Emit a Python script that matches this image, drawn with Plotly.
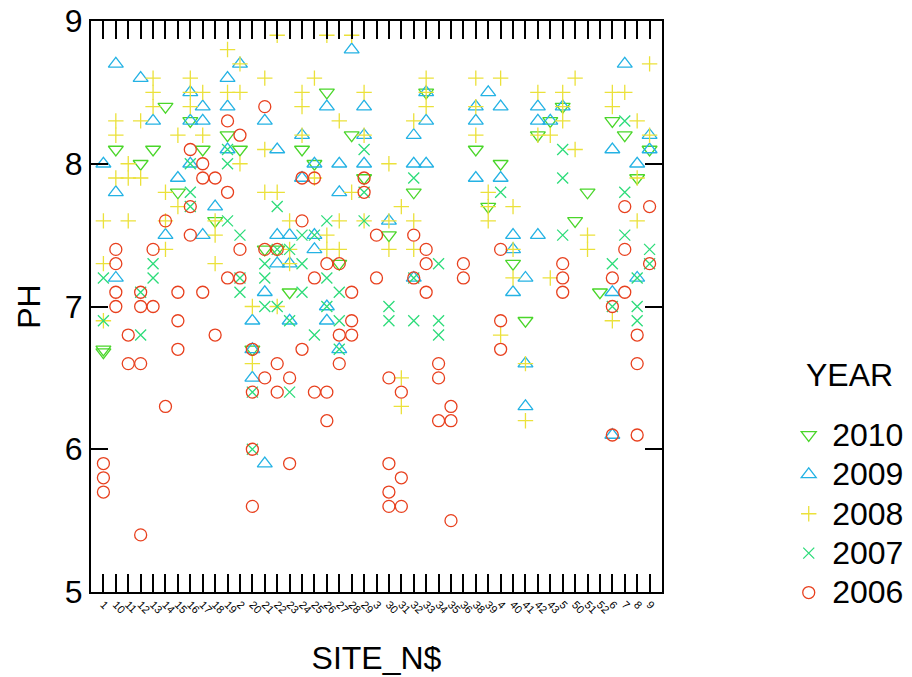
import plotly.graph_objects as go

# Sampling sites in the order they appear on the x axis (string sort)
sites = ["1", "10", "11", "12", "13", "14", "15", "16", "17", "18", "19",
         "2", "20", "21", "22", "23", "24", "25", "26", "27", "28", "29",
         "3", "30", "31", "32", "33", "34", "35", "36", "38", "39",
         "4", "40", "41", "42", "43", "5", "50", "51", "52", "6", "7", "8", "9"]

# pH readings per site, one mapping per sampling year
ph_2010 = {"1": [6.7, 6.68], "10": [8.1], "12": [8.0], "13": [8.1], "14": [8.4],
           "15": [7.8], "16": [8.3], "17": [8.1], "18": [7.6], "19": [8.2], "2": [8.1],
           "20": [6.7], "21": [7.4], "22": [7.4], "23": [7.1], "24": [8.1], "25": [8.0],
           "26": [8.5], "27": [7.3], "28": [8.2], "29": [7.9], "30": [7.5], "32": [7.8],
           "33": [8.5], "38": [8.1], "39": [7.7], "4": [8.0], "40": [7.3], "41": [6.9],
           "42": [8.2], "43": [8.3], "5": [8.4], "50": [7.6], "51": [7.8], "52": [7.1],
           "6": [8.3], "7": [8.2], "8": [7.9], "9": [8.1]}

ph_2009 = {"1": [8.0], "10": [8.7, 7.8, 7.2], "12": [8.6], "13": [8.3], "14": [7.5],
           "15": [7.9], "16": [8.5, 8.3, 8.0], "17": [8.4, 8.3, 7.5], "18": [7.7],
           "19": [8.6, 8.4, 8.1], "2": [8.7], "20": [6.9, 6.7, 6.5], "21": [8.3, 7.1, 5.9],
           "22": [8.1, 7.5, 7.3], "23": [7.5, 7.3, 6.9], "24": [8.2, 7.9],
           "25": [8.0, 7.5, 7.4], "26": [8.4, 7.0, 6.9], "27": [8.0, 7.8, 6.7], "28": [8.8],
           "29": [8.4, 8.2, 8.0], "30": [7.6], "32": [8.2, 8.0, 7.2], "33": [8.5, 8.3, 8.0],
           "38": [8.4, 8.3, 7.9], "39": [8.5], "4": [8.4, 7.9], "40": [7.5, 7.4, 7.1],
           "41": [7.2, 6.6, 6.3], "42": [8.4, 8.3, 7.5], "43": [8.3], "5": [8.4],
           "6": [8.1, 7.1, 6.1], "7": [8.7], "8": [8.0, 7.2], "9": [8.2, 8.1]}

ph_2008 = {"1": [7.6, 7.3, 6.9], "10": [8.3, 8.2, 7.9], "11": [8.0, 7.9, 7.6],
           "12": [8.3, 7.9], "13": [8.6, 8.5, 8.4], "14": [7.8, 7.6, 7.4], "15": [8.2, 7.7],
           "16": [8.6, 8.5, 8.4], "17": [8.5, 8.2], "18": [7.6, 7.5, 7.3], "19": [8.8, 8.5],
           "2": [8.7, 8.5, 8.0], "20": [7.0, 6.6], "21": [8.6, 8.1, 7.8], "22": [8.9, 7.8, 7.0],
           "23": [7.6, 7.4, 7.3], "24": [8.5, 8.4, 8.2], "25": [8.6, 7.9], "26": [8.9, 7.5, 7.4],
           "27": [8.3, 7.6, 7.4], "28": [8.9, 7.8], "29": [8.5, 8.2, 7.6], "30": [8.0, 7.6, 7.4],
           "31": [7.7, 6.5, 6.3], "32": [8.3, 7.6, 7.4], "33": [8.6, 8.5, 8.4],
           "38": [8.6, 8.4, 8.2], "39": [7.8, 7.7, 7.6], "4": [8.6, 6.8], "40": [7.7, 7.4, 7.2],
           "41": [6.6, 6.2], "42": [8.5, 8.2], "43": [8.2, 7.2], "5": [8.5, 8.4, 8.3],
           "50": [8.6, 8.1], "51": [7.5, 7.4], "6": [8.5, 8.4, 6.9], "7": [8.5],
           "8": [8.3, 7.9, 7.6], "9": [8.7, 8.2]}

ph_2007 = {"1": [7.2, 6.9], "12": [7.1, 6.8], "13": [7.3, 7.2], "16": [8.0, 7.8, 7.7],
           "19": [8.1, 8.0, 7.6], "2": [7.5, 7.2, 7.1], "20": [6.4, 6.0], "21": [7.3, 7.2, 7.0],
           "22": [7.7, 7.4, 7.0], "23": [7.4, 6.9, 6.4], "24": [7.5, 7.3, 7.1], "25": [7.5, 6.8],
           "26": [7.6, 7.2, 7.0], "27": [7.1, 6.9, 6.7], "29": [8.1, 7.8, 7.6], "30": [7.0, 6.9],
           "32": [7.9, 7.2, 6.9], "34": [7.3, 6.9, 6.8], "4": [7.8], "5": [8.1, 7.9, 7.5],
           "6": [7.3, 7.0], "7": [8.3, 7.8, 7.5], "8": [7.2, 7.0, 6.9], "9": [7.4, 7.3]}

ph_2006 = {"1": [5.9, 5.8, 5.7], "10": [7.4, 7.3, 7.1, 7.0], "11": [6.8, 6.6],
           "12": [7.1, 7.0, 6.6, 5.4], "13": [7.4, 7.0], "14": [7.6, 6.3], "15": [7.1, 6.9, 6.7],
           "16": [8.1, 7.7, 7.5], "17": [8.0, 7.9, 7.1], "18": [7.9, 6.8], "19": [8.3, 7.8, 7.2],
           "2": [8.2, 7.4, 7.2], "20": [6.7, 6.4, 6.0, 5.6], "21": [8.4, 7.4, 6.5],
           "22": [7.4, 6.6, 6.4], "23": [6.5, 5.9], "24": [7.9, 7.6, 6.7], "25": [7.9, 7.2, 6.4],
           "26": [7.3, 6.4, 6.2], "27": [7.3, 6.8, 6.6], "28": [7.1, 6.9, 6.8], "29": [7.9, 7.8],
           "3": [7.5, 7.2], "30": [6.5, 5.9, 5.7, 5.6], "31": [6.4, 5.8, 5.6], "32": [7.5, 7.2],
           "33": [7.4, 7.3, 7.1], "34": [6.6, 6.5, 6.2], "35": [6.3, 6.2, 5.5], "36": [7.3, 7.2],
           "4": [7.4, 6.9, 6.7], "5": [7.3, 7.2, 7.1], "6": [7.2, 7.0, 6.1], "7": [7.7, 7.4, 7.1],
           "8": [6.8, 6.6, 6.1], "9": [7.7, 7.3]}

years = ["2010", "2009", "2008", "2007", "2006"]
year_data = [ph_2010, ph_2009, ph_2008, ph_2007, ph_2006]
symbols = ["triangle-down-open", "triangle-up-open", "cross-thin-open",
           "x-thin-open", "circle-open"]
colors = ["#4ad62a", "#24b2e4", "#ebe13a", "#2ddc7a", "#e8401e"]
sizes = [13, 13, 11, 11, 12]

FONT = "Liberation Sans, Arial, sans-serif"
BIG = 32

fig = go.Figure()
for yr, data, sym, col, sz in zip(years, year_data, symbols, colors, sizes):
    xs, ys = [], []
    for site, vals in data.items():
        for v in vals:
            xs.append(site)
            ys.append(v)
    fig.add_trace(go.Scatter(
        x=xs, y=ys, mode="markers",
        name=f'<span style="font-size:{BIG}px">{yr}</span>', legendgroup=yr,
        marker=dict(symbol=sym, color=col, size=sz, line=dict(color=col, width=1.3)),
    ))

fig.update_layout(
    width=912, height=677,
    margin=dict(l=91, r=250, t=21, b=85),
    paper_bgcolor="white", plot_bgcolor="white",
    font=dict(family=FONT, color="black"),
    showlegend=True,
    legend=dict(
        xref="container", yref="container", x=0.861, y=0.394,
        xanchor="left", yanchor="top",
        font=dict(size=28, family=FONT, color="black"),
        traceorder="grouped", tracegroupgap=0, itemwidth=37,
        bgcolor="rgba(0,0,0,0)",
    ),
    annotations=[dict(
        text="YEAR", xref="paper", yref="paper", x=1.329, y=0.380,
        xanchor="center", yanchor="middle", showarrow=False,
        font=dict(size=BIG, family=FONT, color="black"),
    )],
)

fig.update_xaxes(
    type="category", categoryorder="array", categoryarray=sites,
    tickmode="array", tickvals=sites, ticktext=sites,
    range=[-1, len(sites)], automargin=False,
    showline=True, linecolor="black", linewidth=2, mirror="ticks",
    ticks="inside", ticklen=18, tickwidth=1.5, tickcolor="black",
    tickangle=45, tickfont=dict(size=11, family=FONT, color="black"),
    showgrid=False, zeroline=False,
    title=dict(text="SITE_N$", font=dict(size=BIG, family=FONT, color="black"), standoff=32),
)
fig.update_yaxes(
    range=[5, 9], tickvals=[5, 6, 7, 8, 9], automargin=False,
    showline=True, linecolor="black", linewidth=2, mirror="ticks",
    ticks="inside", ticklen=17, tickwidth=1.5, tickcolor="black",
    tickfont=dict(size=BIG, family=FONT, color="black"),
    showgrid=False, zeroline=False,
    title=dict(text="PH", font=dict(size=BIG, family=FONT, color="black"), standoff=15),
)

fig.write_html("out.html")
